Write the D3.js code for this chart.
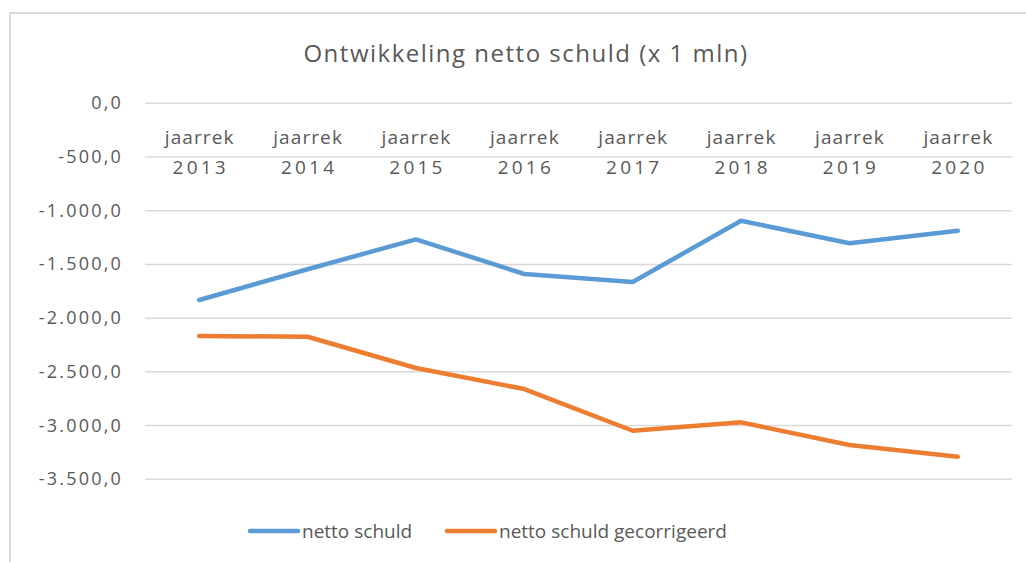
<!doctype html>
<meta charset='utf-8'>
<title>Ontwikkeling netto schuld</title>
<style type="text/css">
	body { margin:0; background:white; }
	svg { display:block; font-family:'Open Sans', sans-serif; }
	.grid line { stroke:#d9d9d9; stroke-width:1.5px; }
	.serie { fill:none; stroke-width:4.5px; stroke-linejoin:round; stroke-linecap:round; }
	text { fill:#595959; }
</style>
<div id='container'></div>
<script src="https://cdnjs.cloudflare.com/ajax/libs/d3/7.8.5/d3.min.js" charset="utf-8"></script>
<script>

	var jaren = ['2013','2014','2015','2016','2017','2018','2019','2020']
	var nettoSchuld = [-1831, -1545, -1266, -1589, -1663, -1093, -1303, -1186]
	var nettoSchuldGecorrigeerd = [-2166, -2173, -2464, -2660, -3048, -2970, -3181, -3290]
	var yTicks = [0, -500, -1000, -1500, -2000, -2500, -3000, -3500]

	var series = [
		{naam:'netto schuld', kleur:'#5b9bd5', waarden:nettoSchuld},
		{naam:'netto schuld gecorrigeerd', kleur:'#ed7d31', waarden:nettoSchuldGecorrigeerd}
	]

	var W = 1026, H = 562

	var svg = d3.select('#container').append('svg')
		.attr('width', W).attr('height', H)

	// rand van de grafiek (loopt rechts en onder buiten beeld)
	svg.append('rect')
		.attr('x', 10).attr('y', 13)
		.attr('width', W + 20).attr('height', H + 20)
		.style('fill', 'none').style('stroke', '#d9d9d9').style('stroke-width', 2)

	var x = d3.scaleBand().domain(jaren).range([145, 1012])
	var y = d3.scaleLinear().domain([-3500, 0]).range([479.3, 103.3])

	var fmt = function(v) {
		var s = d3.format(',.1f')(v)
		return s.replace(/,/g, '#').replace('.', ',').replace(/#/g, '.').replace('−', '-')
	}

	svg.append('g').attr('class', 'grid')
		.selectAll('line').data(yTicks).enter().append('line')
		.attr('x1', 145).attr('x2', 1012)
		.attr('y1', function(d){ return y(d) }).attr('y2', function(d){ return y(d) })

	// letter-spacing zet ook ruimte na het laatste teken, dus x iets opschuiven
	svg.append('g').selectAll('text').data(yTicks).enter().append('text')
		.attr('x', 123).attr('y', function(d){ return y(d) + 6 })
		.attr('text-anchor', 'end')
		.style('font-size', '18px')
		.style('letter-spacing', '2.2px')
		.text(fmt)

	// categorie labels bovenaan
	var cat = svg.append('g').selectAll('text').data(jaren).enter().append('text')
		.attr('text-anchor', 'middle')
		.style('font-size', '19px')
		.attr('transform', function(d){ return 'translate(' + (x(d) + x.bandwidth() / 2) + ',0)' })
	cat.append('tspan').attr('x', 0.5).attr('y', 144)
		.style('letter-spacing', '1.1px').text('jaarrek')
	cat.append('tspan').attr('x', 1.5).attr('y', 174)
		.style('letter-spacing', '3.2px').text(function(d){ return d })

	var line = d3.line()
		.x(function(d, i){ return x(jaren[i]) + x.bandwidth() / 2 })
		.y(function(d){ return y(d) })

	svg.selectAll('path.serie').data(series).enter().append('path')
		.attr('class', 'serie')
		.style('stroke', function(d){ return d.kleur })
		.attr('d', function(d){ return line(d.waarden) })

	svg.append('text')
		.attr('x', 526).attr('y', 62)
		.attr('text-anchor', 'middle')
		.style('font-size', '24px')
		.style('letter-spacing', '1.5px')
		.text('Ontwikkeling netto schuld (x 1 mln)')

	// legenda
	var legPos = [250, 447]
	var leg = svg.append('g').selectAll('g').data(series).enter().append('g')
		.attr('transform', function(d, i){ return 'translate(' + legPos[i] + ',531)' })
	leg.append('line')
		.attr('x1', 0).attr('x2', 48)
		.style('stroke', function(d){ return d.kleur })
		.style('stroke-width', 4.5).style('stroke-linecap', 'round')
	leg.append('text')
		.attr('x', 52).attr('y', 7)
		.style('font-size', '19px')
		.text(function(d){ return d.naam })

</script>
